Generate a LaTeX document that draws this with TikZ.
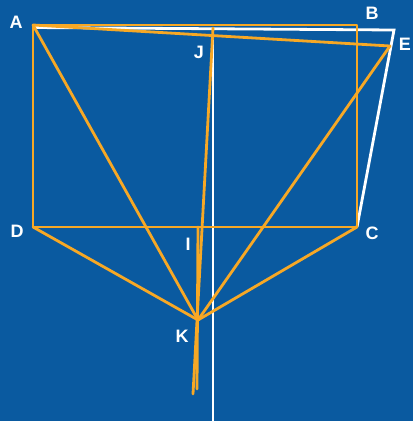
\documentclass[tikz,border=0pt]{standalone}
\usepackage{fontspec}
\setmainfont{Liberation Sans}
\begin{document}
\begin{tikzpicture}[x=1pt,y=-1pt,
  org/.style={draw=orangeC,line width=2.8pt,line cap=round,line join=round},
  wht/.style={draw=white,line width=2.8pt,line join=miter},
  lbl/.style={text=white,font=\bfseries\fontsize{18}{18}\selectfont,inner sep=0pt}]
\definecolor{bgC}{HTML}{0A5AA0}
\definecolor{orangeC}{HTML}{F7A825}
\fill[bgC] (0,0) rectangle (413,421);
\useasboundingbox (0,0) rectangle (413,421);
% points
\coordinate (A) at (33,25);
\coordinate (Aw) at (33,27.5);
\coordinate (Bo) at (357,25);
\coordinate (Bw) at (394,30);
\coordinate (E) at (390,46);
\coordinate (C) at (357,227);
\coordinate (D) at (33,227);
\coordinate (K) at (198,320);
\coordinate (J) at (213,28);
\coordinate (Jb) at (213,421);
\coordinate (Jl) at (193,394);
\coordinate (I) at (198,227);
\coordinate (Il) at (197,389);
% white lines
\draw[wht] (Aw) -- (Bw) -- (C);
\draw[wht] (J) -- (Jb);
% orange lines
\draw[org] (A) -- (Bo) -- (C) -- (D) -- cycle;
\draw[org] (A) -- (E);
\draw[org] (A) -- (K);
\draw[org] (D) -- (K);
\draw[org] (C) -- (K);
\draw[org] (E) -- (K);
\draw[org] (J) -- (Jl);
\draw[org] (I) -- (Il);
% labels
\node[lbl] (lA) at (16,22) {A};
\node[lbl] (lB) at (372,13) {B};
\node[lbl] (lE) at (405,44) {E};
\node[lbl] (lJ) at (199,52) {J};
\node[lbl] (lD) at (17,231) {D};
\node[lbl] (lC) at (372,233) {C};
\node[lbl] (lI) at (188,244) {I};
\node[lbl] (lK) at (182,336) {K};
\end{tikzpicture}
\end{document}
